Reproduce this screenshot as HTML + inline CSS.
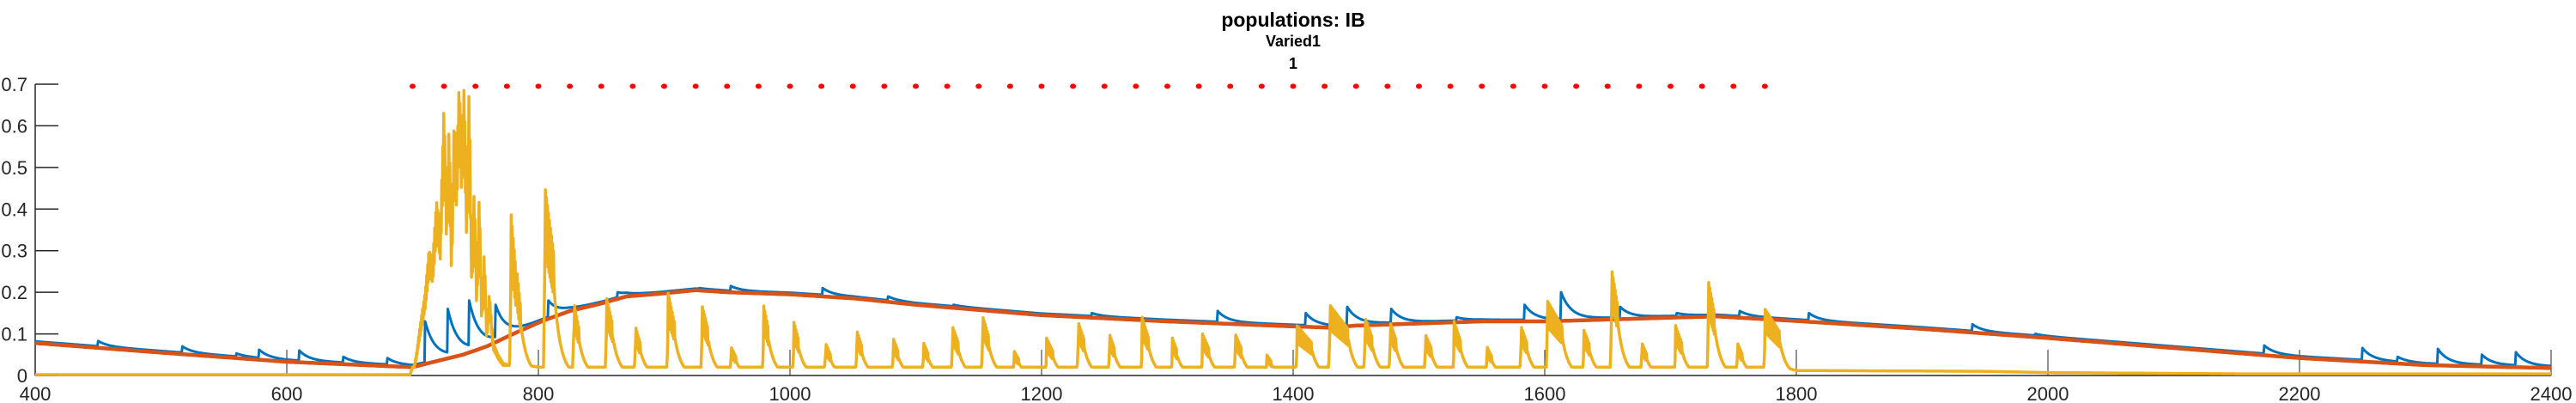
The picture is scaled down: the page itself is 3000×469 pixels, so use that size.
<!DOCTYPE html>
<html><head><meta charset="utf-8"><style>
html,body{margin:0;padding:0;background:#fff;}
svg{display:block;font-family:"Liberation Sans",sans-serif;}
</style></head><body>
<svg id="chart" width="3000" height="469" viewBox="0 0 3000 469" xmlns="http://www.w3.org/2000/svg">
<text x="1506" y="31" text-anchor="middle" font-size="23" font-weight="bold">populations: IB</text>
<text x="1506" y="54" text-anchor="middle" font-size="18" font-weight="bold">Varied1</text>
<text x="1506" y="80" text-anchor="middle" font-size="18" font-weight="bold">1</text>
<g id="axes"></g>
<g id="series"></g>
</svg>
<script>
// ---- data ----
const xTicks=[400,600,800,1000,1200,1400,1600,1800,2000,2200,2400];
const yTicks=[0,0.1,0.2,0.3,0.4,0.5,0.6,0.7];
const yTickLabels=["0","0.1","0.2","0.3","0.4","0.5","0.6","0.7"];
const orangeT=[400,500,600,700,713,740,759,780,804,825,850,870,895,925,951,1000,1052,1100,1200,1300,1400,1430,1450,1500,1550,1600,1700,1737,1800,1900,2000,2100,2200,2300,2400];
const orangeV=[0.078,0.055,0.033,0.02,0.03,0.05,0.07,0.1,0.132,0.155,0.173,0.19,0.196,0.205,0.2,0.195,0.185,0.17,0.145,0.13,0.118,0.115,0.12,0.125,0.13,0.13,0.139,0.142,0.131,0.112,0.09,0.066,0.042,0.025,0.018];
const blueT=[450,517,560,578,610,645,680,710,728,745,766,808,863,928,953,1026,1078,1130,1240,1340,1410,1443,1478,1530,1584,1613,1660,1705,1755,1810,1940,1990,2172,2250,2278,2310,2345,2372];
const bluePeak=[0.083,0.07,0.053,0.062,0.06,0.045,0.042,0.13,0.16,0.18,0.17,0.18,0.2,0.21,0.215,0.21,0.19,0.17,0.15,0.155,0.15,0.165,0.16,0.14,0.17,0.2,0.165,0.15,0.155,0.15,0.123,0.1,0.072,0.066,0.045,0.064,0.05,0.056];
const bigT=[700,703,706,710,713,716,719,722,725,727,729,731,733,735,737,739,741,743,745,747,749,751,753,755,757,759,761,764,768,772,776];
const bigV=[0.002,0.05,0.12,0.2,0.3,0.28,0.42,0.35,0.65,0.4,0.6,0.3,0.62,0.5,0.7,0.55,0.7,0.4,0.7,0.25,0.45,0.2,0.44,0.15,0.3,0.1,0.2,0.08,0.05,0.03,0.025];
const burstT=[778,783,805,828,854,877,903,930,953,979,1003,1028,1053,1082,1106,1129,1153,1178,1204,1229,1254,1280,1304,1328,1354,1379,1403,1429,1457,1477,1505,1528,1554,1581,1602,1631,1653,1677,1704,1730,1753,1775];
const burstPeak=[0.4,0.25,0.46,0.18,0.19,0.12,0.2,0.17,0.07,0.17,0.13,0.08,0.11,0.09,0.08,0.12,0.145,0.06,0.09,0.13,0.1,0.14,0.09,0.1,0.1,0.05,0.12,0.17,0.14,0.13,0.1,0.13,0.07,0.12,0.18,0.11,0.26,0.08,0.12,0.23,0.08,0.16];
const burstW=[4,3,7,4,5,4,5,5,4,4,4,4,4,4,4,5,5,4,5,5,4,5,4,5,5,4,12,15,6,5,5,5,4,5,12,5,5,4,5,5,4,12];
const yBaseT=[400,698,700,790,800,1790,1800,1950,2000,2150,2400];
const yBaseV=[0.002,0.002,0.02,0.025,0.02,0.02,0.012,0.01,0.007,0.004,0.004];
const dotT=[];for(let t=700;t<=1775;t+=25)dotT.push(t);
const dotV=0.695;

// ---- scales ----
const X0=41,X1=2971,Y0=437,YS=484.3;
const xs=t=>X0+(t-400)*(X1-X0)/2000;
const ys=v=>Y0-v*YS;
const NS="http://www.w3.org/2000/svg";
function interp(T,V,t){if(t<=T[0])return V[0];for(let i=1;i<T.length;i++){if(t<=T[i]){const f=(t-T[i-1])/(T[i]-T[i-1]);return V[i-1]+f*(V[i]-V[i-1]);}}return V[V.length-1];}
function mk(tag,attrs,parent){const e=document.createElementNS(NS,tag);for(const k in attrs)e.setAttribute(k,attrs[k]);parent.appendChild(e);return e;}

const axes=document.getElementById('axes');
const series=document.getElementById('series');

let yl=mk('line',{x1:X0,y1:ys(0.7),x2:X0,y2:Y0,stroke:'#262626','stroke-width':1.5},axes);


let xl=mk('line',{x1:X0,y1:Y0,x2:X1,y2:Y0,stroke:'#262626','stroke-width':1.5},axes);


yTicks.forEach((v,i)=>{
  let tk=mk('line',{x1:X0,y1:ys(v),x2:X0+27,y2:ys(v),stroke:'#262626','stroke-width':1.5},axes);
  
  
  let tx=mk('text',{x:X0-9,y:ys(v)+8,'text-anchor':'end','font-size':22,fill:'#262626'},axes);
  tx.textContent=yTickLabels[i];
  
  
});
xTicks.forEach(t=>{
  if(t>400){
    let tk=mk('line',{x1:xs(t),y1:Y0,x2:xs(t),y2:Y0-30,stroke:'#262626','stroke-width':1},axes);
    
    
  }
  let tx=mk('text',{x:xs(t),y:466,'text-anchor':'middle','font-size':22,fill:'#262626'},axes);
  tx.textContent=String(t);
  
  
});

function orange(t){return interp(orangeT,orangeV,t);}
function blue(t){
  let v=orange(t)+0.004;
  for(let i=0;i<blueT.length;i++){
    const d=t-blueT[i];
    if(d>=0&&d<60){const b=orange(blueT[i])+0.004;const c=orange(t)+0.004+(bluePeak[i]-b)*Math.exp(-d/8);if(c>v)v=c;}
  }
  return v;
}
function yellow(t,k){
  let v=interp(yBaseT,yBaseV,t);
  if(t>=700&&t<=776){const b=interp(bigT,bigV,t)*(k%2?0.8:1);if(b>v)v=b;}
  for(let i=0;i<burstT.length;i++){
    const d=t-burstT[i],w=burstW[i];
    let c=0;
    if(d>=-1&&d<0)c=burstPeak[i]*0.5*(d+1);
    else if(d>=0&&d<=w)c=burstPeak[i]*(k%2?0.65:1)*(1-0.35*d/w);
    else if(d>w&&d<50)c=burstPeak[i]*0.5*Math.exp(-(d-w)/5);
    if(c>v)v=c;
  }
  return v;
}
function path(fn,step){let d='';let k=0;for(let t=400;t<=2400.001;t+=step,k++){d+=(k?'L':'M')+xs(t).toFixed(1)+','+ys(fn(t,k)).toFixed(1);}return d;}

let pb=mk('path',{d:path(blue,0.5),fill:'none',stroke:'#0072BD','stroke-width':3,'stroke-linejoin':'round'},series);


let po=mk('path',{d:path(orange,1),fill:'none',stroke:'#D95319','stroke-width':4.5},series);


let py=mk('path',{d:path(yellow,0.4),fill:'none',stroke:'#EDB120','stroke-width':3.5,'stroke-linejoin':'round'},series);


dotT.forEach(t=>{
  let c=mk('ellipse',{cx:xs(t),cy:ys(dotV),rx:3.5,ry:3,fill:'#FF0000'},series);
  
  
});
</script>
</body></html>
